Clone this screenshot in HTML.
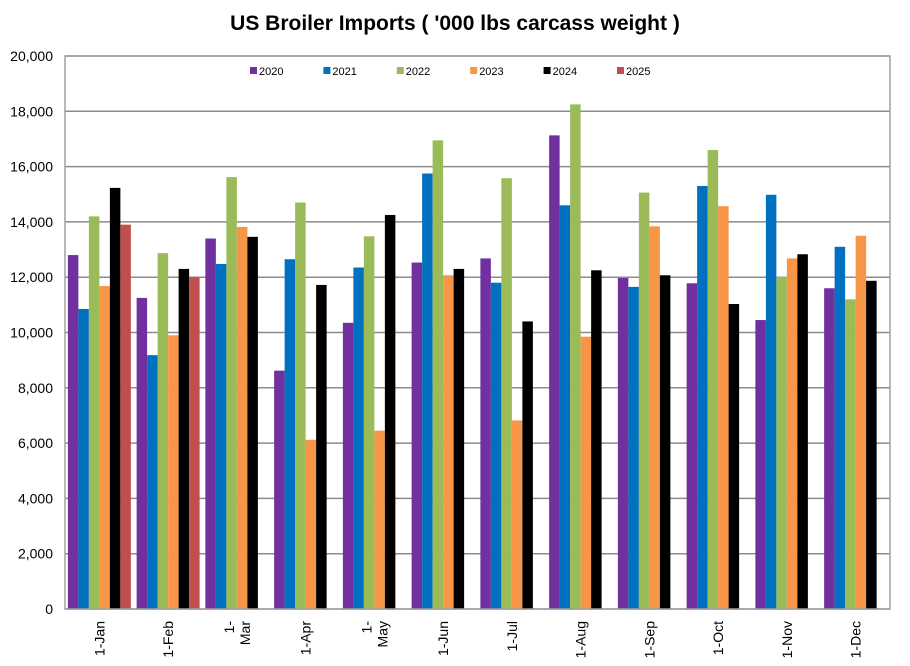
<!DOCTYPE html>
<html><head><meta charset="utf-8"><style>
body{margin:0;background:#fff;font-family:"Liberation Sans",sans-serif}
svg text{font-family:"Liberation Sans",sans-serif}
</style></head><body>
<svg id="chart" width="910" height="661">
<text x="455" y="30" text-anchor="middle" font-size="21" font-weight="bold" fill="#000">US Broiler Imports ( '000 lbs carcass weight )</text>
<g id="grid"></g><g id="bars"></g><g id="axes"></g><g id="legend"></g>
</svg>
<script>
const categories=["1-Jan","1-Feb","1-Mar","1-Apr","1-May","1-Jun","1-Jul","1-Aug","1-Sep","1-Oct","1-Nov","1-Dec"];
const seriesNames=["2020","2021","2022","2023","2024","2025"];
const s2020=[12800,11250,13400,8620,10350,12530,12680,17130,11970,11780,10450,11600];
const s2021=[10850,9180,12480,12650,12350,15750,11800,14600,11650,15300,14980,13100];
const s2022=[14200,12870,15620,14700,13480,16950,15580,18250,15060,16600,12020,11200];
const s2023=[11680,9900,13820,6120,6450,12070,6820,9850,13840,14570,12680,13500];
const s2024=[15230,12300,13460,11720,14250,12300,10400,12250,12070,11030,12830,11870];
const s2025=[13900,12000,null,null,null,null,null,null,null,null,null,null];
const yTicks=[0,2000,4000,6000,8000,10000,12000,14000,16000,18000,20000];
const series=[s2020,s2021,s2022,s2023,s2024,s2025];
const colors=["#7030A0","#0070C0","#9BBB59","#F79646","#000000","#C0504D"];
const L=65,R=890,T=56,B=609,yMax=20000;
const ns="http://www.w3.org/2000/svg";
const y=v=>B-(v/yMax)*(B-T);
const cw=(R-L)/categories.length;
const bw=10.5, off=(cw-6*bw)/2;
const x=(ci,si)=>L+ci*cw+off+si*bw;
function mk(tag,attrs,parent){const e=document.createElementNS(ns,tag);for(const k in attrs)e.setAttribute(k,attrs[k]);document.getElementById(parent).appendChild(e);return e;}
yTicks.forEach(t=>{
  const l=mk("line",{x1:L,x2:R,y1:y(t),y2:y(t),stroke:"#8c8c8c","stroke-width":1.5},"grid");
  
  
  const tx=mk("text",{x:53,y:y(t)+5,"text-anchor":"end","font-size":14,fill:"#000"},"axes");
  tx.textContent=t.toLocaleString("en-US");
  
  
});
series.forEach((s,si)=>s.forEach((v,ci)=>{
  if(v==null)return;
  const r=mk("rect",{x:x(ci,si),y:y(v),width:bw,height:B-y(v),fill:colors[si]},"bars");
  
  
}));
const fr=mk("rect",{x:L,y:T,width:R-L,height:B-T,fill:"none",stroke:"#a0a0a0","stroke-width":1.5},"axes");


categories.forEach((c,ci)=>{
  const cx=L+ci*cw+cw/2;
  const g=mk("g",{transform:`translate(${cx},${B+12}) rotate(-90)`},"axes");
  
  
  const wrap=(c==="1-Mar"||c==="1-May");
  const lines=wrap?["1-",c.slice(2)]:[c];
  lines.forEach((ln,i)=>{
    const t=document.createElementNS(ns,"text");
    t.setAttribute("x",0);t.setAttribute("text-anchor","end");t.setAttribute("font-size",14);
    const dy=wrap?(i===0?-3:13):5;
    t.setAttribute("y",dy);
    t.textContent=ln;g.appendChild(t);
  });
});
seriesNames.forEach((n,i)=>{
  const lx=250+i*73.4;
  const r=mk("rect",{x:lx,y:67,width:7,height:7,fill:colors[i]},"legend");
  
  
  const t=mk("text",{x:lx+9,y:75,"font-size":11,fill:"#000"},"legend");
  t.textContent=n;
  
  
});
</script>
</body></html>
